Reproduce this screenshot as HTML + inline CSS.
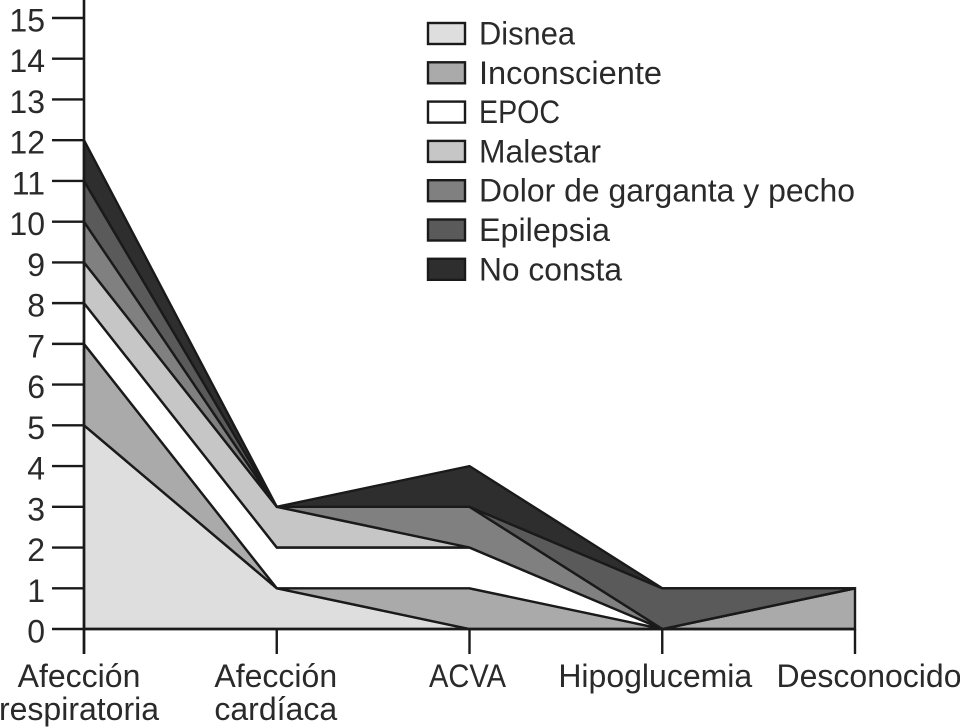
<!DOCTYPE html>
<html lang="es">
<head>
<meta charset="utf-8">
<title>Gráfico de áreas apiladas</title>
<style>
html,body{margin:0;padding:0;background:#fff;width:960px;height:728px;overflow:hidden}
svg{display:block;font-family:"Liberation Sans",sans-serif;fill:#2a2a2a}
text{font-size:32px}
</style>
</head>
<body>
<svg id="chart" width="960" height="728" viewBox="0 0 960 728" xmlns="http://www.w3.org/2000/svg"></svg>
<script>
const categories = ["Afección respiratoria", "Afección cardíaca", "ACVA", "Hipoglucemia", "Desconocido"];
const seriesNames = ["Disnea", "Inconsciente", "EPOC", "Malestar", "Dolor de garganta y pecho", "Epilepsia", "No consta"];
const disnea = [5, 1, 0, 0, 0];
const inconsciente = [2, 0, 1, 0, 1];
const epoc = [1, 1, 1, 0, 0];
const malestar = [1, 1, 0, 0, 0];
const dolor = [1, 0, 1, 0, 0];
const epilepsia = [1, 0, 0, 1, 0];
const noConsta = [1, 0, 1, 0, 0];
const yTicks = [0, 1, 2, 3, 4, 5, 6, 7, 8, 9, 10, 11, 12, 13, 14, 15];

const seriesValues = [disnea, inconsciente, epoc, malestar, dolor, epilepsia, noConsta];
const fills = ["#dedede", "#aaaaaa", "#ffffff", "#c6c6c6", "#808080", "#5a5a5a", "#2e2e2e"];
const ink = "#1a1a1a";
const NS = "http://www.w3.org/2000/svg";
const svg = document.getElementById("chart");

function x(i) { return 84 + i * (855 - 84) / (categories.length - 1); }
function y(v) { return 629 - v * (629 - 18) / 15; }
function add(tag, attrs, parent) {
  const el = document.createElementNS(NS, tag);
  for (const k in attrs) el.setAttribute(k, attrs[k]);
  (parent || svg).appendChild(el);
  return el;
}
function slug(s) {
  return s.normalize("NFD").replace(/[\u0300-\u036f]/g, "").toLowerCase().replace(/[^a-z0-9]+/g, "-");
}

// stacked areas
let base = categories.map(() => 0);
seriesValues.forEach((vals, s) => {
  const top = base.map((b, i) => b + vals[i]);
  const pts = [];
  top.forEach((v, i) => pts.push(x(i).toFixed(1) + "," + y(v).toFixed(1)));
  for (let i = base.length - 1; i >= 0; i--) pts.push(x(i).toFixed(1) + "," + y(base[i]).toFixed(1));
  const area = add("polygon", { points: pts.join(" "), fill: fills[s], stroke: ink, "stroke-width": 2.4, "stroke-linejoin": "miter" });
  
  
  base = top;
});

// y axis
const yAxis = add("line", { x1: 84, y1: 0, x2: 84, y2: 654, stroke: ink, "stroke-width": 2.6 });


yTicks.forEach(t => {
  const tick = add("line", { x1: 52, y1: y(t), x2: 84, y2: y(t), stroke: ink, "stroke-width": 2.4 });
  
  
  const lab = add("text", { x: 45, y: y(t) + 13.5, "text-anchor": "end" });
  lab.textContent = t;
  
  
});

// x axis
const xAxis = add("line", { x1: 84, y1: y(0), x2: 855, y2: y(0), stroke: ink, "stroke-width": 2.6 });


const labelShift = [-5, -1, -2, -7, 14];
categories.forEach((c, i) => {
  const tick = add("line", { x1: x(i), y1: y(0), x2: x(i), y2: 654, stroke: ink, "stroke-width": 2.4 });
  
  
  const lab = add("text", { "text-anchor": "middle" });
  
  
  const words = c.split(" ");
  words.forEach((w, j) => {
    const sp = add("tspan", { x: x(i) + labelShift[i], y: 687 + j * 33 }, lab);
    sp.textContent = w;
  });
  if (c === "ACVA") {
    lab.setAttribute("textLength", 77);
    lab.setAttribute("lengthAdjust", "spacingAndGlyphs");
  }
});

// legend
const legendWidths = [96, 183, 81, 122, 376, 131, 143];
const legend = add("g", {});


seriesNames.forEach((n, s) => {
  const cy = 33.5 + s * 39.3;
  const entry = add("g", {}, legend);
  
  
  const sw = add("rect", { x: 428, y: cy - 10.5, width: 37, height: 21, fill: fills[s], stroke: ink, "stroke-width": 2.4 }, entry);
  
  
  const t = add("text", { x: 479, y: cy + 11, textLength: legendWidths[s], lengthAdjust: "spacingAndGlyphs" }, entry);
  t.textContent = n;
  
  
});
</script>
</body>
</html>
